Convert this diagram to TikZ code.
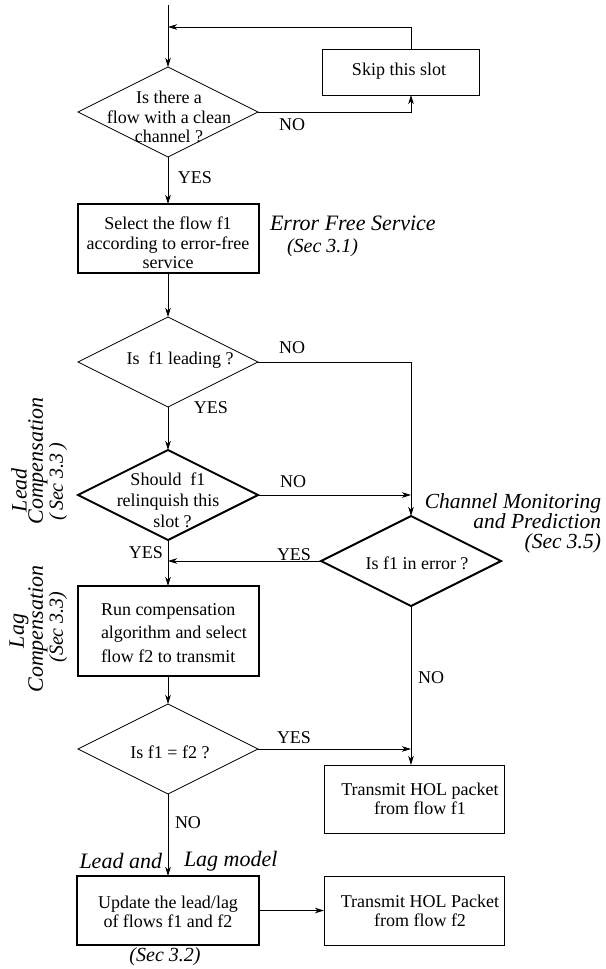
\documentclass[tikz,border=0pt]{standalone}
\usepackage{fontspec}
\setmainfont{Liberation Serif}
\usetikzlibrary{shapes.geometric,arrows.meta}
\begin{document}
\begin{tikzpicture}[x=1pt,y=-1pt,
  every node/.style={inner sep=0pt,outer sep=0pt},
  ln/.style={line width=0.8pt},
  arr/.style={ln,-{Stealth[length=9pt,width=5.5pt,inset=2.5pt]}},
  bx/.style={draw,rectangle,line width=0.8pt},
  tbx/.style={draw,rectangle,line width=2pt},
  dm/.style={draw,diamond,line width=0.8pt,minimum width=180pt,minimum height=90pt},
  tdm/.style={dm,line width=2pt},
  txt/.style={font=\fontsize{18}{19.5}\selectfont,align=center},
  lbl/.style={font=\fontsize{18}{19.5}\selectfont},
  itl/.style={font=\fontsize{22}{22}\selectfont\itshape},
  itls/.style={font=\fontsize{20}{22}\selectfont\itshape}]
\useasboundingbox (0,0) rectangle (605,969);

% boxes
\node[bx,minimum width=157pt,minimum height=46pt] (skip) at (400.5,72) {};
\node[tbx,minimum width=181pt,minimum height=69pt] (sel) at (168,238.5) {};
\node[tbx,minimum width=181pt,minimum height=90pt] (run) at (168,631) {};
\node[bx,minimum width=180pt,minimum height=68pt] (t1) at (414,799) {};
\node[tbx,minimum width=182pt,minimum height=69pt] (upd) at (168,910.5) {};
\node[bx,minimum width=180pt,minimum height=69pt] (t2) at (414,910.5) {};

% diamonds
\node[dm] (d1) at (168,112) {};
\node[dm] (d2) at (168,362) {};
\node[tdm] (d3) at (168,495) {};
\node[tdm] (d4) at (411,561) {};
\node[dm] (d5) at (168,749) {};

% texts in shapes
\node[txt] (skipt) at (399,71) {Skip this slot};
\node[txt] (d1t) at (169,117) {Is there a\\flow with a clean\\channel ?};
\node[txt] (selt) at (168,243) {Select the flow f1\\according to error-free\\service};
\node[txt] (d2t) at (180,360) {Is\ \ f1 leading ?};
\node[txt,font=\fontsize{18}{21}\selectfont] (d3t) at (168,500) {Should\ \ f1\\relinquish this\\\ \ slot ?};
\node[txt] (d4t) at (417,563) {Is f1 in error ?};
\node[txt,align=left,anchor=west,font=\fontsize{18}{23.5}\selectfont] (runt) at (101,633) {Run compensation\\algorithm and select\\flow f2 to transmit};
\node[txt] (d5t) at (170,752) {Is f1 = f2 ?};
\node[txt] (t1t) at (420,799) {Transmit HOL packet\\from flow f1};
\node[txt] (updt) at (168,912) {Update the lead/lag\\of flows f1 and f2};
\node[txt] (t2t) at (420,911) {Transmit HOL Packet\\from flow f2};

% coordinates
\coordinate (s0) at (168,5);
\coordinate (j0) at (168,27);
\coordinate (k0) at (411,27);

% connectors
\draw[arr] (s0) -- (d1.north);
\draw[arr] (skip.north -| k0) -- (k0) -- (j0);
\draw[arr] (d1.east) -| (skip.south -| k0);
\draw[arr] (d1.south) -- (sel.north);
\draw[arr] (sel.south) -- (d2.north);
\draw[arr] (d2.east) -| (d4.north);
\draw[arr] (d2.south) -- (d3.north);
\draw[arr] (d3.east) -- (d3.east -| d4.north);
\draw[arr] (d3.south) -- (run.north);
\draw[arr] (d4.west) -- (d4.west -| d3.south);
\draw[arr] (d4.south) -- (d4.south |- t1.north);
\draw[arr] (run.south) -- (d5.north);
\draw[arr] (d5.east) -- (d5.east -| d4.north);
\draw[arr] (d5.south) -- (upd.north);
\draw[arr] (upd.east) -- (t2.west);

% connector labels
\node[lbl] (no1) at (292,125) {NO};
\node[lbl] (yes1) at (195,178) {YES};
\node[lbl] (no2) at (292,348) {NO};
\node[lbl] (yes2) at (211,408) {YES};
\node[lbl] (no3) at (293,482) {NO};
\node[lbl] (yes3) at (146,553) {YES};
\node[lbl] (yes4) at (294,555) {YES};
\node[lbl] (no4) at (431,678) {NO};
\node[lbl] (yes5) at (294,738) {YES};
\node[lbl] (no5) at (188,823) {NO};

% section annotations
\node[itl,anchor=west] (efs) at (270,223) {Error Free Service};
\node[itls,anchor=west] (efs2) at (287,248) {(Sec 3.1)};
\node[itl,align=right,anchor=north east,font=\fontsize{21.5}{19.6}\selectfont\itshape] (cm) at (601,494) {Channel Monitoring\\and Prediction\hspace{4pt}\\(Sec 3.5)\hspace{3pt}};
\node[itl,anchor=east] (ll1) at (162,861) {Lead and};
\node[itl,anchor=west] (ll2) at (184,861) {Lag model};
\node[itls] (ll3) at (165,957) {(Sec 3.2)};
\node[itl,rotate=90] (lc1) at (19,490) {Lead};
\node[itl,rotate=90] (lc2) at (38,461) {Compensation};
\node[itls,rotate=90] (lc3) at (58,482) {(\,Sec 3.3\,)};
\node[itl,rotate=90] (lg1) at (19,631) {Lag};
\node[itl,rotate=90] (lg2) at (38,629) {Compensation};
\node[itls,rotate=90] (lg3) at (58,627) {(Sec 3.3)};
\end{tikzpicture}
\end{document}
